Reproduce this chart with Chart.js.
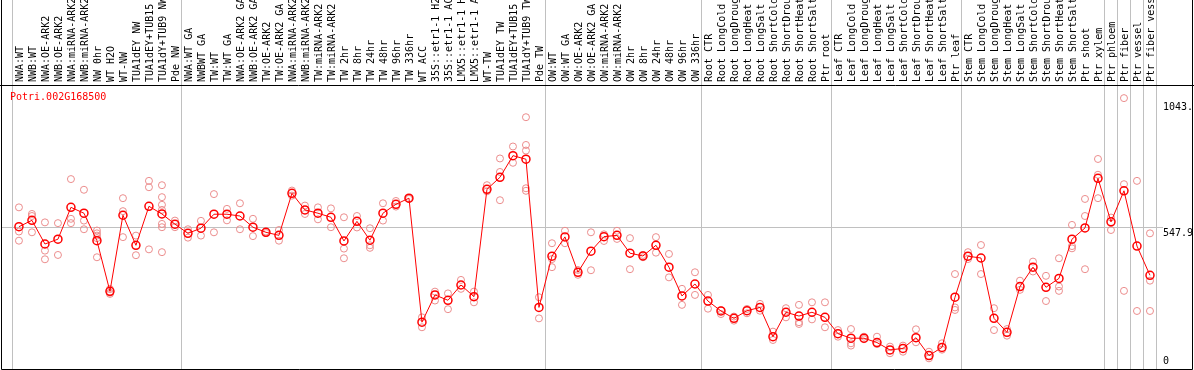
<!DOCTYPE html>
<html>
<head>
<meta charset="utf-8">
<script src="https://cdn.jsdelivr.net/npm/chart.js"></script>
<style>
  html, body { margin: 0; padding: 0; background: #fff; }
</style>
</head>
<body>
<canvas id="expr" width="1194" height="370"></canvas>
<script>
const geneName = 'Potri.002G168500';

const samples = [
  'NWA:WT', 'NWB:WT', 'NWA:OE-ARK2', 'NWB:OE-ARK2', 'NWA:miRNA-ARK2', 'NWB:miRNA-ARK2',
  'NW 0hr', 'WT H2O', 'WT-NW', 'TUA1dEY NW', 'TUA1dEY+TUB15 NW', 'TUA1dY+TUB9 NW', 'Pde NW',
  'NWA:WT GA', 'NWBWT GA', 'TW:WT', 'TW:WT GA', 'NWA:OE-ARK2 GA', 'NWB:OE-ARK2 GA',
  'TW:OE-ARK2', 'TW:OE-ARK2 GA', 'NWA:miRNA-ARK2 GA', 'NWB:miRNA-ARK2 GA', 'TW:miRNA-ARK2',
  'TW:miRNA-ARK2', 'TW 2hr', 'TW 8hr', 'TW 24hr', 'TW 48hr', 'TW 96hr', 'TW 336hr', 'WT ACC',
  '35S::etr1-1 H2O', '35S::etr1-1 ACC', 'LMX5::etr1-1 H2O', 'LMX5::etr1-1 ACC', 'WT-TW',
  'TUA1dEY TW', 'TUA1dEY+TUB15 TW', 'TUA1dY+TUB9 TW', 'Pde TW',
  'OW:WT', 'OW:WT GA', 'OW:OE-ARK2', 'OW:OE-ARK2 GA', 'OW:miRNA-ARK2', 'OW:miRNA-ARK2',
  'OW 2hr', 'OW 8hr', 'OW 24hr', 'OW 48hr', 'OW 96hr', 'OW 336hr',
  'Root CTR', 'Root LongCold', 'Root LongDrought', 'Root LongHeat', 'Root LongSalt',
  'Root ShortCold', 'Root ShortDrought', 'Root ShortHeat', 'Root ShortSalt', 'Ptr root',
  'Leaf CTR', 'Leaf LongCold', 'Leaf LongDrought', 'Leaf LongHeat', 'Leaf LongSalt',
  'Leaf ShortCold', 'Leaf ShortDrought', 'Leaf ShortHeat', 'Leaf ShortSalt', 'Ptr leaf',
  'Stem CTR', 'Stem LongCold', 'Stem LongDrought', 'Stem LongHeat', 'Stem LongSalt',
  'Stem ShortCold', 'Stem ShortDrought', 'Stem ShortHeat', 'Stem ShortSalt', 'Ptr shoot',
  'Ptr xylem', 'Ptr phloem', 'Ptr fiber', 'Ptr vessel', 'Ptr fiber vessel'
];

// mean expression per sample (red line)
const means = [
  553, 578, 485, 504, 629, 606, 498, 299, 598, 480,
  633, 603, 563, 527, 547, 602, 602, 595, 551, 531,
  519, 684, 619, 606, 590, 497, 574, 500, 606, 641,
  665, 178, 285, 264, 324, 278, 700, 747, 832, 818,
  236, 437, 513, 374, 457, 514, 519, 449, 438, 480,
  394, 281, 328, 261, 222, 193, 223, 236, 121, 217,
  202, 217, 197, 133, 115, 115, 98, 69, 75, 117,
  47, 79, 276, 437, 430, 193, 138, 318, 394, 315,
  350, 504, 548, 743, 572, 694, 477, 362
];

// individual replicates per sample (pink circles)
const replicates = [
  [629, 534, 498], [603, 595, 531], [570, 459, 425], [567, 442], [740, 584, 567],
  [698, 577, 543], [538, 527, 518, 508, 433], [308, 294, 289], [665, 614, 512], [518, 441],
  [733, 708, 464], [716, 669, 639, 619, 564, 551, 453], [577, 551], [543, 510], [576, 518],
  [681, 531], [623, 578], [645, 543], [584, 516], [534, 528],
  [540, 498], [695, 675], [636, 603], [629, 582], [625, 551],
  [590, 467, 429], [595, 550], [547, 480, 470], [645, 577], [654, 632],
  [665, 662], [197, 158], [298, 263], [291, 229], [344, 309],
  [298, 256], [716, 692], [821, 768, 657], [868, 804], [983, 874, 852, 704, 694],
  [276, 193], [488, 426, 394], [537, 488], [383, 364], [531, 382],
  [523, 497], [537, 505], [508, 386], [442, 433], [512, 451],
  [446, 354], [309, 246], [374, 285], [285, 231], [210, 225],
  [200, 184], [230, 213], [250, 223], [141, 108], [233, 197],
  [246, 178, 171], [256, 189], [256, 158], [147, 121], [151, 95, 86],
  [121, 111], [121, 92], [82, 56], [86, 62], [150, 99],
  [62, 36], [95, 70], [367, 236, 226], [453, 426], [481, 367],
  [233, 147], [151, 125], [341, 305], [416, 377], [360, 261],
  [429, 318, 301], [560, 477, 468], [662, 595, 386], [819, 757, 665], [589, 540],
  [1058, 720, 301], [733, 222], [527, 341, 222]
];

const yTickValues = [0, 547.9, 1043];
const yTickLabels = ['0', '547.9', '1043.'];
// grid line indexes that separate sample groups
const groupBreaks = [0, 13, 41, 53, 63, 73, 84, 85, 86, 87, 88];

const monoFont = { family: 'DejaVu Sans Mono', size: 10, lineHeight: 1.1 };

const frame = {
  id: 'frame',
  afterDraw(chart) {
    const ctx = chart.ctx;
    const top = chart.chartArea.top;
    ctx.save();
    ctx.strokeStyle = '#000';
    ctx.lineWidth = 1;
    ctx.beginPath();
    ctx.moveTo(1.5, 0); ctx.lineTo(1.5, 369.5);
    ctx.lineTo(1192.5, 369.5); ctx.lineTo(1192.5, 0);
    ctx.moveTo(0, top - 0.5); ctx.lineTo(1194, top - 0.5);
    ctx.stroke();
    ctx.fillStyle = 'red';
    ctx.font = '10px "DejaVu Sans Mono"';
    ctx.textBaseline = 'middle';
    ctx.fillText(geneName, 10, top + 11);
    ctx.restore();
  }
};

new Chart(document.getElementById('expr'), {
  type: 'line',
  data: {
    datasets: [
      {
        data: means.map((y, x) => ({ x, y })),
        borderColor: 'red',
        borderWidth: 1,
        pointRadius: 4,
        pointBorderWidth: 1.5,
        pointBorderColor: 'red',
        pointBackgroundColor: 'rgba(0,0,0,0)',
        tension: 0
      },
      {
        type: 'scatter',
        data: replicates.flatMap((arr, x) => arr.map(y => ({ x, y }))),
        pointRadius: 3.5,
        pointBorderWidth: 1,
        borderColor: 'rgb(235,140,140)',
        backgroundColor: 'rgba(0,0,0,0)'
      }
    ]
  },
  options: {
    responsive: false,
    animation: false,
    devicePixelRatio: 1,
    layout: { autoPadding: false, padding: { left: 1, right: 2, top: 0, bottom: 1 } },
    plugins: { legend: { display: false }, tooltip: { enabled: false } },
    scales: {
      x: {
        type: 'linear',
        position: 'top',
        min: -1.38,
        max: 87.54,
        afterBuildTicks: s => { s.ticks = samples.map((_, i) => ({ value: i })); },
        afterFit: s => { s.height = 86; s.paddingLeft = 0; s.paddingRight = 0; },
        ticks: {
          autoSkip: false,
          minRotation: 90,
          maxRotation: 90,
          padding: -82,
          labelOffset: 12,
          color: '#000',
          font: monoFont,
          callback: (v, i) => samples[i]
        },
        grid: {
          offset: true,
          tickLength: 86,
          color: c => (c.type === 'scale' || groupBreaks.includes(c.index)) ? '#c0c0c0' : 'rgba(0,0,0,0)'
        },
        border: { display: false }
      },
      y: {
        position: 'right',
        min: -5.9,
        max: 1105.6,
        afterBuildTicks: s => { s.ticks = yTickValues.map(v => ({ value: v })); },
        afterFit: s => { s.width = 35; s.paddingTop = 0; s.paddingBottom = 0; },
        ticks: {
          padding: 0,
          labelOffset: 5,
          color: '#000',
          font: monoFont,
          callback: (v, i) => i === 0 ? [yTickLabels[i], '', ''] : yTickLabels[i]
        },
        grid: {
          tickLength: 6,
          color: c => (c.tick && c.tick.value === 547.9) ? '#c0c0c0' : 'rgba(0,0,0,0)'
        },
        border: { display: false }
      }
    }
  },
  plugins: [frame]
});
</script>
</body>
</html>
